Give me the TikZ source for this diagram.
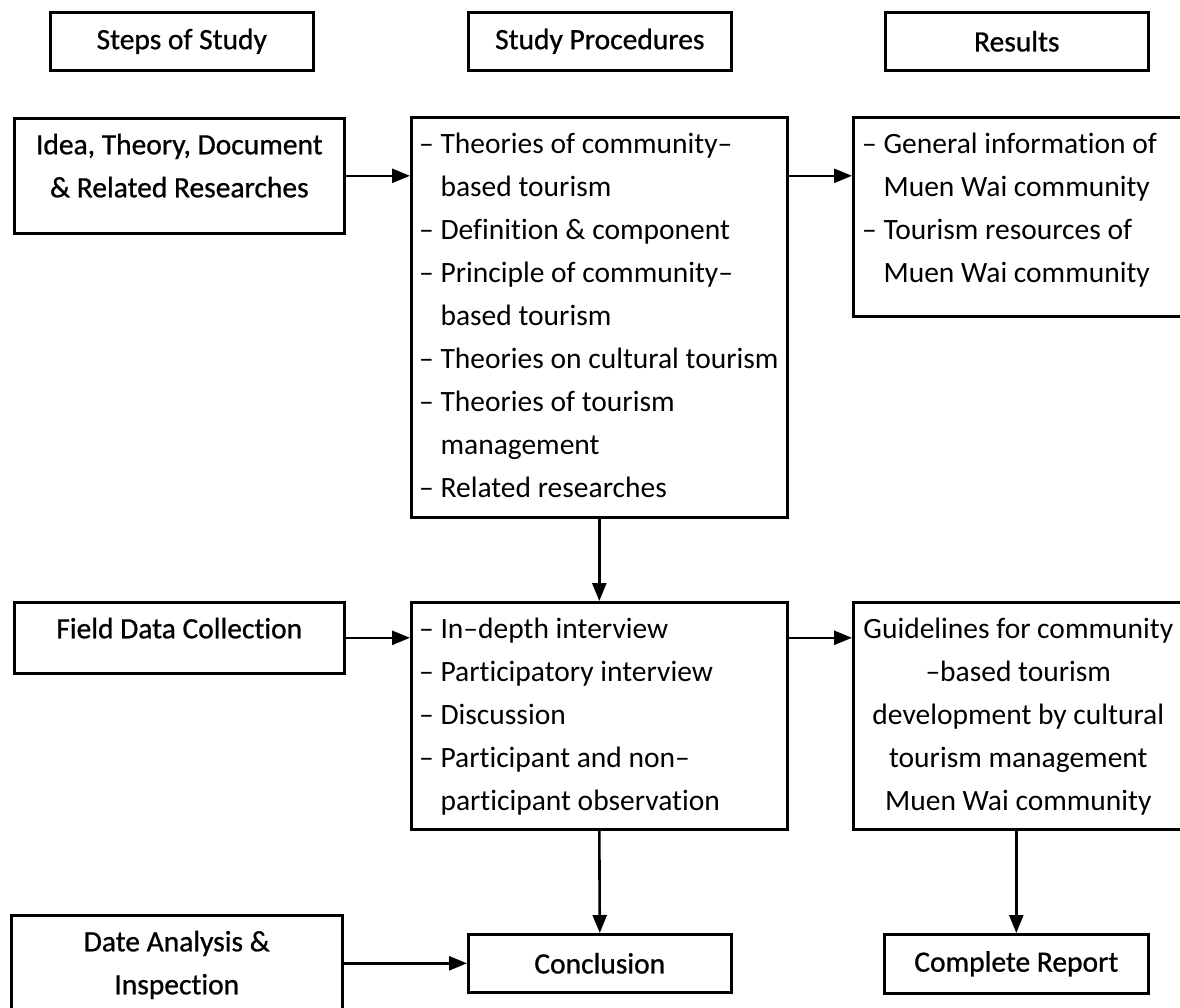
\documentclass[tikz,border=0pt]{standalone}
\usepackage{fontspec}
\setmainfont{Carlito}[Ligatures=NoCommon]
\newfontfamily\semibold{Carlito}[FakeBold=0.8,Ligatures=NoCommon]
\usetikzlibrary{arrows.meta}

\begin{document}
\begin{tikzpicture}[x=1pt,y=-1pt,
    box/.style={draw, line width=2.6pt, anchor=north west, inner sep=0pt},
    head/.style={box, minimum width=263pt, minimum height=58pt,
      font=\fontsize{29.5}{43}\selectfont\semibold},
    txt/.style={inner sep=0pt, yshift=-7pt, font=\fontsize{29.5}{43}\selectfont},
    flow/.style={line width=2.6pt, -{Triangle[length=18pt,width=14pt]}}]

  \useasboundingbox (0,0) rectangle (1180,1007);

  % Column headings
  \node[head] (hsteps) at (49,11) {Steps of Study};
  \node[head] (hproc) at (467,11) {Study Procedures};
  \node[head] (hres) at (884,11) {Results};

  % Steps of study
  \node[box, minimum width=330pt, minimum height=115pt] (idea) at (13,117) {};
  \node[txt, anchor=north, align=center, font=\fontsize{29.5}{43}\selectfont\semibold]
    (ideatxt) at (idea.north) {\strut Idea, Theory, Document\\ \& Related Researches};
  \node[box, minimum width=330pt, minimum height=71pt] (field) at (13,601) {};
  \node[txt, anchor=north, font=\fontsize{29.5}{43}\selectfont\semibold]
    (fieldtxt) at (field.north) {\strut Field Data Collection};
  \node[box, minimum width=331pt, minimum height=116pt] (date) at (10,914) {};
  \node[txt, anchor=north, align=center, font=\fontsize{29.5}{43}\selectfont\semibold]
    (datetxt) at (date.north) {\strut Date Analysis \&\\ Inspection};

  % Study procedures
  \node[box, minimum width=376pt, minimum height=400pt] (proc1) at (410,116) {};
  \node[txt, anchor=north west, xshift=9pt, align=left] (proc1txt) at (proc1.north west)
    {\strut – Theories of community–\\
     \phantom{–~}based tourism\\
     – Definition \& component\\
     – Principle of community–\\
     \phantom{–~}based tourism\\
     – Theories on cultural tourism\\
     – Theories of tourism\\
     \phantom{–~}management\\
     – Related researches};
  \node[box, minimum width=376pt, minimum height=227pt] (proc2) at (410,601) {};
  \node[txt, anchor=north west, xshift=9pt, align=left] (proc2txt) at (proc2.north west)
    {\strut – In–depth interview\\
     – Participatory interview\\
     – Discussion\\
     – Participant and non–\\
     \phantom{–~}participant observation};
  \node[box, minimum width=263pt, minimum height=58pt,
    font=\fontsize{29.5}{43}\selectfont\semibold] (concl) at (467,933) {Conclusion};

  % Results
  \node[box, minimum width=330pt, minimum height=199pt] (res1) at (852,116) {};
  \node[txt, anchor=north west, xshift=10pt, align=left] (res1txt) at (res1.north west)
    {\strut – General information of\\
     \phantom{–~}Muen Wai community\\
     – Tourism resources of\\
     \phantom{–~}Muen Wai community};
  \node[box, minimum width=330pt, minimum height=227pt] (res2) at (852,601) {};
  \node[txt, anchor=north, align=center] (res2txt) at (res2.north)
    {\strut Guidelines for community\\
     –based tourism\\
     development by cultural\\
     tourism management\\
     Muen Wai community};
  \node[box, minimum width=264pt, minimum height=59pt,
    font=\fontsize{29.5}{43}\selectfont\semibold] (report) at (883,933) {Complete Report};

  % Connectors
  \draw[flow] (idea.east) -- (proc1.west |- idea.east);
  \draw[flow] (proc1.east |- idea.east) -- (res1.west |- idea.east);
  \draw[flow] (field.east) -- (proc2.west |- field.east);
  \draw[flow] (proc2.east |- field.east) -- (res2.west |- field.east);
  \draw[flow] (date.east |- concl.west) -- (concl.west);
  \draw[flow] (proc1.south) -- (proc2.north);
  \draw[flow] (proc2.south) -- (concl.north);
  \draw[flow] (res2.south -| report.north) -- (report.north);
\end{tikzpicture}
\end{document}
